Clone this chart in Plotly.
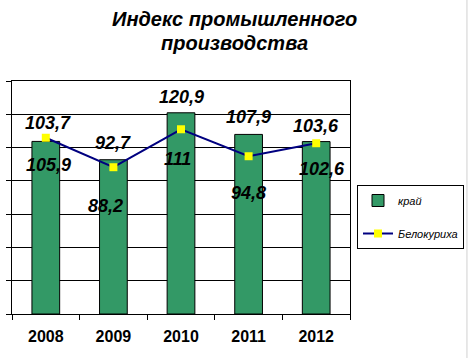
import plotly.graph_objects as go

years = ["2008", "2009", "2010", "2011", "2012"]
krai = [103.7, 92.7, 120.9, 107.9, 103.6]
belokurikha = [105.9, 88.2, 111.0, 94.8, 102.6]
krai_labels = ["103,7", "92,7", "120,9", "107,9", "103,6"]
belo_labels = ["105,9", "88,2", "111", "94,8", "102,6"]
title_lines = ["Индекс промышленного", "производства"]

# label offsets (px) - styling only
krai_dy = [18, 17, 16, 17, 16]
krai_dx = [2, 0, 0, 0, 0]
belo_dy = [-27, -39, -30, -37, -26]
belo_dx = [3, -8, -4, 0, 6]

FONT = "Arial, Liberation Sans, sans-serif"

fig = go.Figure()
fig.add_trace(go.Bar(
    x=years, y=krai, name="край", legendgroup="a",
    marker=dict(color="#339966", line=dict(color="black", width=1)),
    width=0.41,
))
fig.add_trace(go.Scatter(
    x=years, y=belokurikha, name="Белокуриха", legendgroup="b",
    mode="lines+markers",
    line=dict(color="#000080", width=2),
    marker=dict(symbol="square", color="#FFFF00", size=8, line=dict(width=0)),
))

lab_font = dict(family=FONT, size=18, color="black", weight="bold", style="italic")
for i, (y, t, dx, dy) in enumerate(zip(krai, krai_labels, krai_dx, krai_dy)):
    fig.add_annotation(x=i, y=y, text=t, showarrow=False, xshift=dx, yshift=dy, font=lab_font)
for i, (y, t, dx, dy) in enumerate(zip(belokurikha, belo_labels, belo_dx, belo_dy)):
    fig.add_annotation(x=i, y=y, text=t, showarrow=False, xshift=dx, yshift=dy, font=lab_font)

title_font = dict(family=FONT, size=20, color="black", weight="bold", style="italic")
for line, ty in zip(title_lines, [1.322, 1.219]):
    fig.add_annotation(
        text=line, showarrow=False,
        xref="paper", yref="paper", x=0.658, y=ty, xanchor="center", yanchor="top",
        font=title_font,
    )

fig.update_layout(
    width=469, height=358,
    margin=dict(l=12, r=119, t=81, b=44, autoexpand=False),
    paper_bgcolor="white", plot_bgcolor="white",
    font=dict(family=FONT, color="black"),
    showlegend=True,
    legend=dict(
        xref="container", yref="container",
        x=357 / 469, y=1 - 185 / 358, xanchor="left", yanchor="top",
        bordercolor="black", borderwidth=1, bgcolor="white",
        font=dict(family=FONT, size=11, style="italic", color="black"),
        tracegroupgap=14, traceorder="grouped",
    ),
    xaxis=dict(
        type="category", range=[-0.5, 4.5], showline=True, linecolor="black", linewidth=1, mirror=True,
        ticks="outside", tickson="boundaries", ticklen=5, tickcolor="black",
        tickfont=dict(family=FONT, size=16, weight="bold", color="black"),
        ticklabelstandoff=8, showgrid=False, automargin=False,
    ),
    yaxis=dict(
        range=[0, 140], dtick=20, showticklabels=False,
        showline=True, linecolor="black", linewidth=1, mirror=True,
        ticks="outside", ticklen=5, tickcolor="black",
        showgrid=True, gridcolor="black", gridwidth=1, zeroline=False, automargin=False,
    ),
    bargap=0.59,
)
fig.add_shape(type="line", xref="paper", yref="paper", x0=1.346, x1=1.346, y0=-0.2, y1=1.4,
              line=dict(color="#d0d0d0", width=1))

fig.write_html("out.html", config={"displayModeBar": False},
               post_script="document.body.style.margin='0';document.body.style.padding='0';")
